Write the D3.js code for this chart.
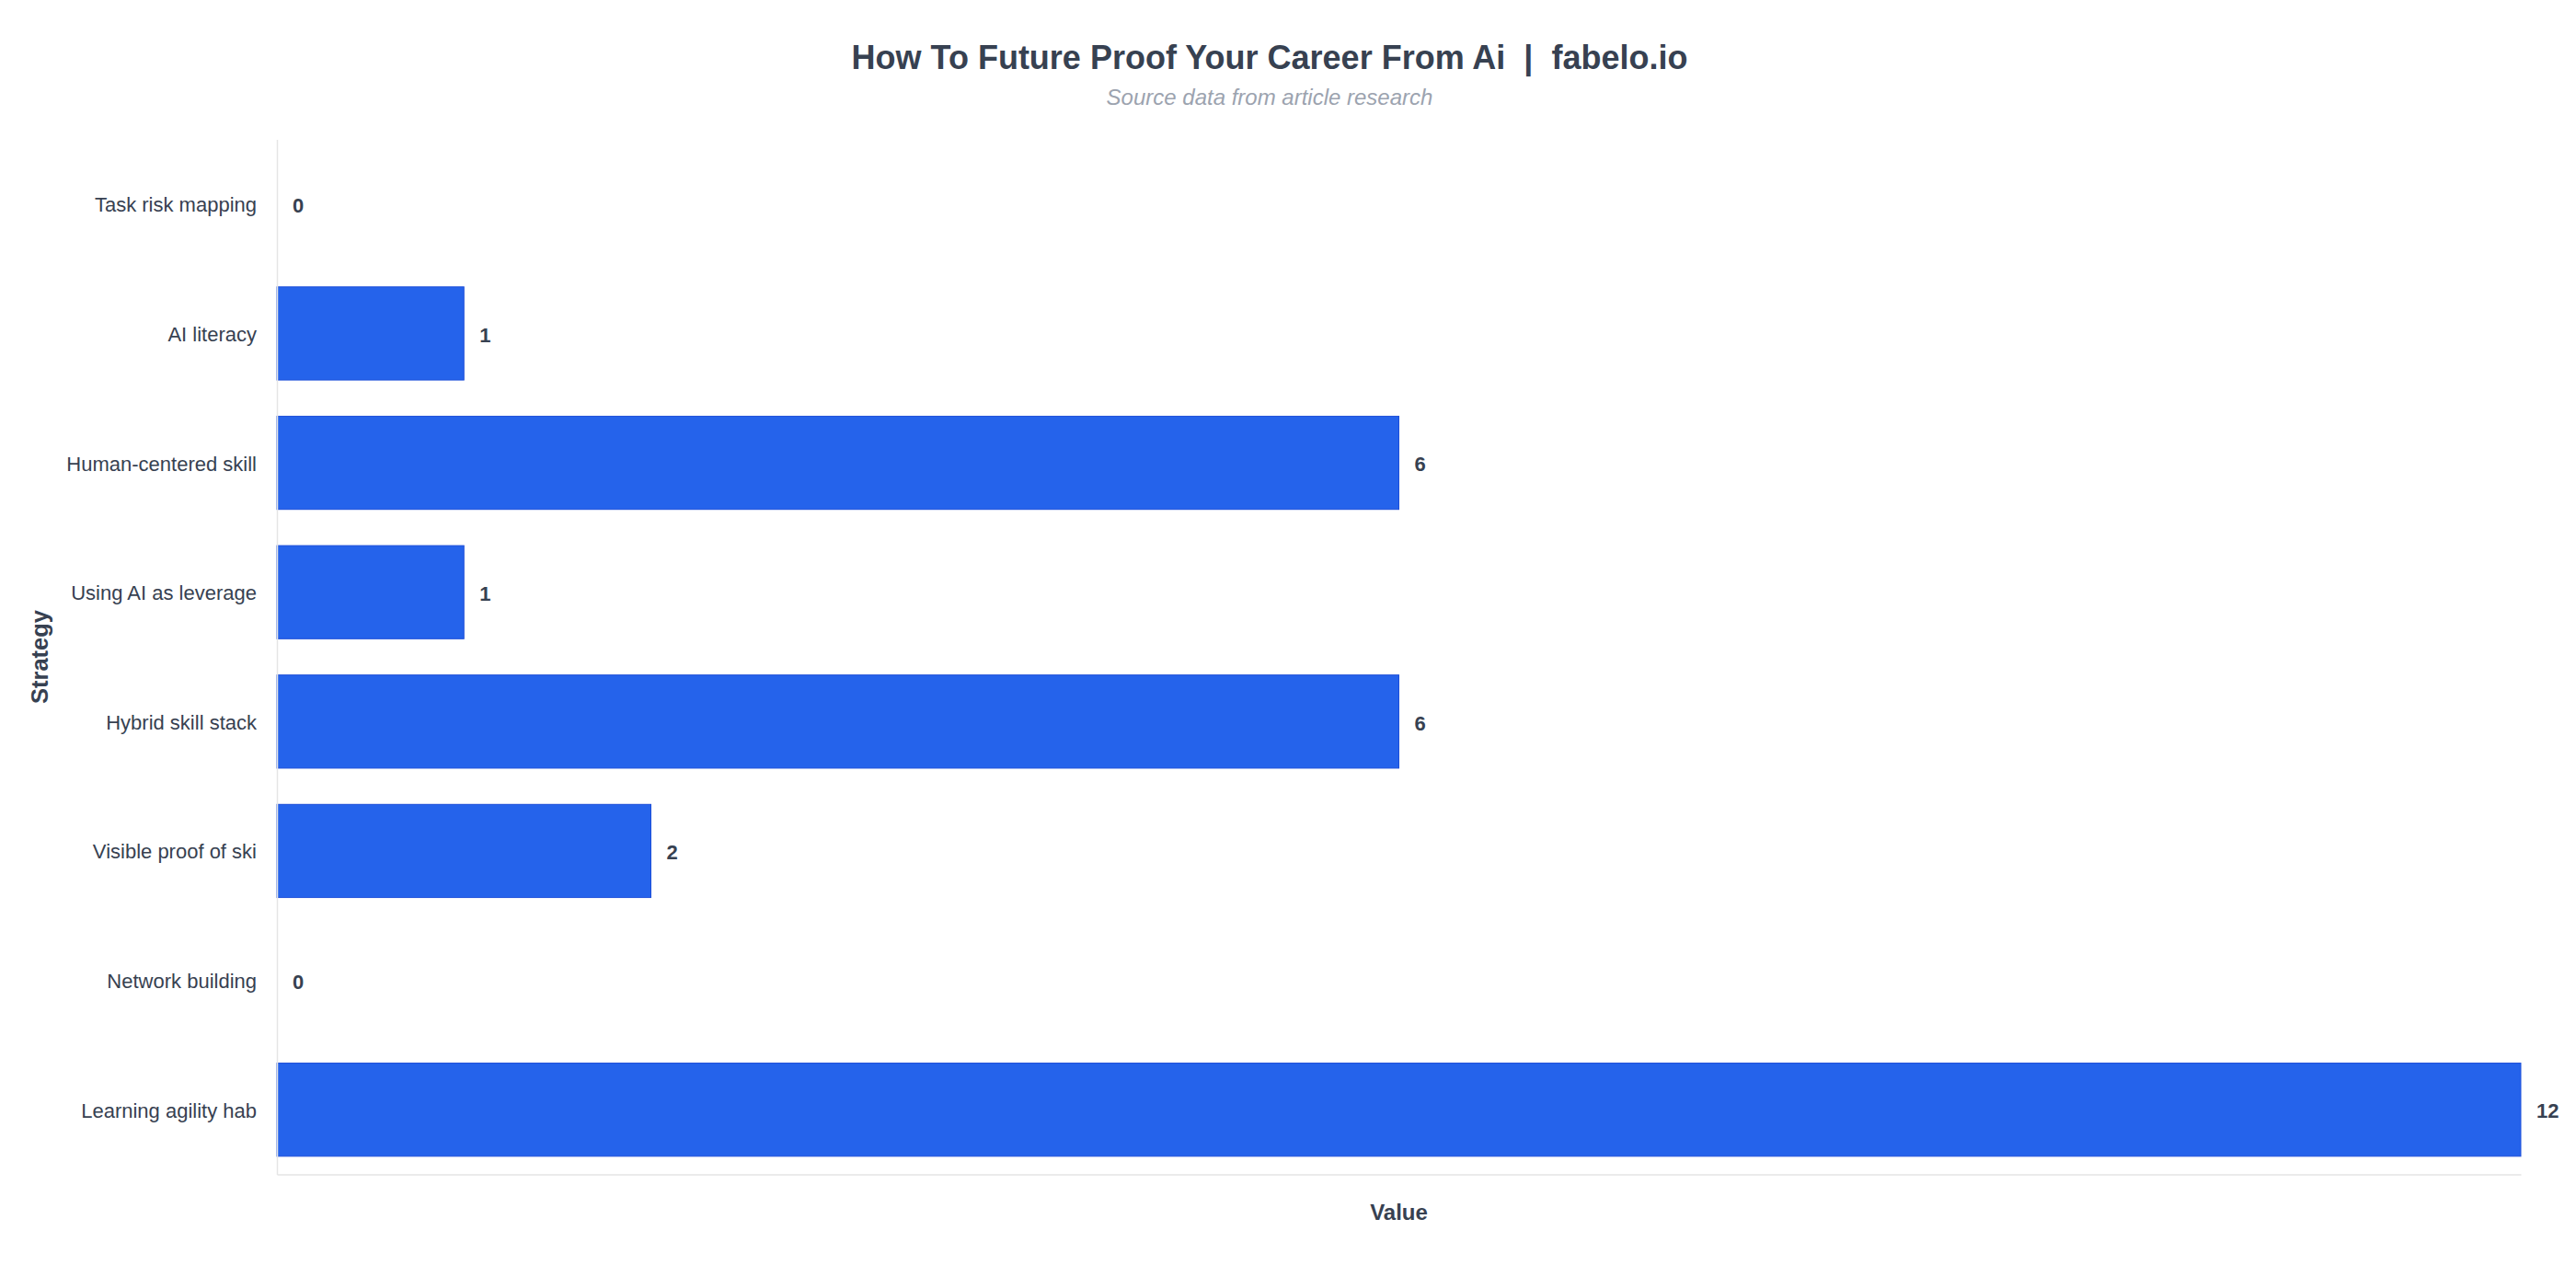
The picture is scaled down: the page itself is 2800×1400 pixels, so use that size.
<!DOCTYPE html>
<html>
<head>
<meta charset="utf-8">
<script src="https://cdn.jsdelivr.net/npm/d3@7"></script>
<style>
  html, body { margin: 0; padding: 0; background: #ffffff; }
  svg { display: block; }
</style>
</head>
<body>
<svg id="chart" width="2800" height="1400"></svg>
<script>
const categories = [
  "Task risk mapping",
  "AI literacy",
  "Human-centered skill",
  "Using AI as leverage",
  "Hybrid skill stack",
  "Visible proof of ski",
  "Network building",
  "Learning agility hab"
];
const values = [0, 1, 6, 1, 6, 2, 0, 12];
const titleText = "How To Future Proof Your Career From Ai  |  fabelo.io";
const subtitleText = "Source data from article research";
const xAxisTitle = "Value";
const yAxisTitle = "Strategy";

const W = 2800, H = 1400;
const margin = { left: 301, right: 2740, top: 151.5, bottom: 1276.5 };
const font = "'Liberation Sans', Arial, Helvetica, sans-serif";
const textColor = "#374151";

const svg = d3.select("#chart");

const data = categories.map((c, i) => ({ cat: c, val: values[i] }));

const x = d3.scaleLinear().domain([0, d3.max(values)]).range([margin.left, margin.right]);
const y = d3.scaleBand().domain(categories).range([margin.top, margin.bottom])
  .paddingInner(0.28).paddingOuter(0.14);

// title
svg.append("text")
  .attr("x", 1380).attr("y", 74.5)
  .attr("text-anchor", "middle")
  .style("font-family", font).style("font-size", "36px").style("font-weight", "bold")
  .style("fill", textColor)
  .style("white-space", "pre")
  .text(titleText);

svg.append("text")
  .attr("x", 1380).attr("y", 113.5)
  .attr("text-anchor", "middle")
  .style("font-family", font).style("font-size", "24px").style("font-style", "italic")
  .style("fill", "#9ca3af")
  .text(subtitleText);

// bars
svg.append("g").selectAll("rect")
  .data(data.filter(d => d.val > 0))
  .join("rect")
  .attr("x", x(0))
  .attr("y", d => y(d.cat))
  .attr("width", d => x(d.val) - x(0))
  .attr("height", y.bandwidth())
  .attr("fill", "#2563eb")
  .attr("stroke", "#1d4ed8")
  .attr("stroke-width", 1);

// axes (lines only, no ticks)
const yAxis = d3.axisLeft(y).tickSize(0).tickPadding(22);
const gy = svg.append("g").attr("transform", `translate(${x(0)},1.5)`).call(yAxis);
gy.select(".domain").attr("stroke", "#e5e5e5").attr("stroke-width", 1.5)
  .attr("transform", "translate(0,-1.5)");
gy.selectAll(".tick text")
  .style("font-family", font).style("font-size", "22px")
  .style("fill", textColor);

const xAxis = d3.axisBottom(x).tickValues([]).tickSize(0).tickSizeOuter(0);
const gx = svg.append("g").attr("transform", `translate(0,${margin.bottom})`).call(xAxis);
gx.select(".domain").attr("stroke", "#e5e5e5").attr("stroke-width", 1.5);

// value labels
svg.append("g").selectAll("text")
  .data(data)
  .join("text")
  .attr("x", d => x(d.val) + 17)
  .attr("y", d => y(d.cat) + y.bandwidth() / 2 + 1.5)
  .attr("dy", "0.35em")
  .style("font-family", font).style("font-size", "22px").style("font-weight", "bold")
  .style("fill", textColor)
  .text(d => d.val);

// axis titles
svg.append("text")
  .attr("x", (margin.left + margin.right) / 2).attr("y", 1326)
  .attr("text-anchor", "middle")
  .style("font-family", font).style("font-size", "24px").style("font-weight", "bold")
  .style("fill", textColor)
  .text(xAxisTitle);

svg.append("text")
  .attr("transform", `translate(52,${(margin.top + margin.bottom) / 2}) rotate(-90)`)
  .attr("text-anchor", "middle")
  .style("font-family", font).style("font-size", "25.5px").style("font-weight", "bold")
  .style("fill", textColor)
  .text(yAxisTitle);
</script>
</body>
</html>
